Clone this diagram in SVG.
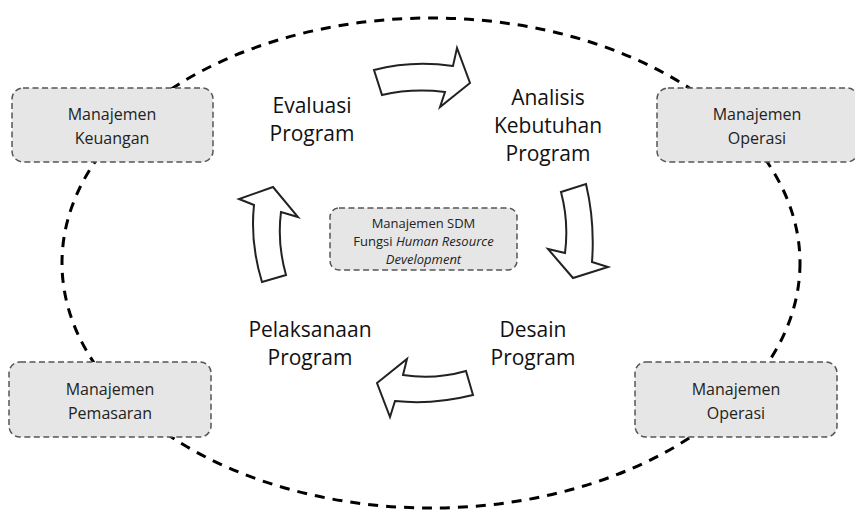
<svg xmlns="http://www.w3.org/2000/svg" width="855" height="513" viewBox="0 0 855 513">
  <style>
    .ring { fill: none; stroke: #000; stroke-width: 3; stroke-dasharray: 10 8; }
    .box { fill: #e6e6e6; stroke: #555; stroke-width: 1.5; stroke-dasharray: 6 3.5; }
    .cycle { fill: #fff; stroke: #222; stroke-width: 2; stroke-linejoin: miter; }
    .boxtext { font-family: "Open Sans", "Noto Sans", sans-serif; font-size: 16px; fill: #222; text-anchor: middle; }
    .step { font-family: "Open Sans", "Noto Sans", sans-serif; font-size: 21px; fill: #111; text-anchor: middle; }
    .core { font-family: "Open Sans", "Noto Sans", sans-serif; font-size: 13px; fill: #222; text-anchor: middle; }
  </style>

  <rect width="855" height="513" fill="#fff"/>

  <g id="connectors">
    <!-- dashed ring linking the management functions -->
    <ellipse class="ring" cx="431" cy="263" rx="369" ry="245"/>
    <!-- curved block arrows of the training cycle -->
    <path class="cycle" d="M374,70 Q412,60 453,66 L457,48 L470,83 L440,107 L445,92 Q412,88 382,95 Z"/>
    <path class="cycle" d="M561,192 L586,184 Q595,222 592,262 L608,267 L573,278 L548,249 L565,253 Q569,222 561,192 Z"/>
    <path class="cycle" d="M466,371 Q434,380 403,375 L407,359 L377,383 L390,417 L395,401 Q433,405 473,395 Z"/>
    <path class="cycle" d="M262,282 Q250,243 254,205 L239,199 L273,187 L298,217 L281,212 Q277,243 286,275 Z"/>
  </g>

  <g id="keuangan">
    <rect class="box" x="12" y="88" width="201" height="74" rx="11"/>
    <text class="boxtext" x="112" y="120">Manajemen</text>
    <text class="boxtext" x="112" y="144">Keuangan</text>
  </g>

  <g id="operasi-atas">
    <rect class="box" x="657" y="88" width="201" height="74" rx="11"/>
    <text class="boxtext" x="757" y="120">Manajemen</text>
    <text class="boxtext" x="757" y="144">Operasi</text>
  </g>

  <g id="pemasaran">
    <rect class="box" x="9" y="362" width="202" height="75" rx="11"/>
    <text class="boxtext" x="110" y="395">Manajemen</text>
    <text class="boxtext" x="110" y="419">Pemasaran</text>
  </g>

  <g id="operasi-bawah">
    <rect class="box" x="635" y="362" width="202" height="75" rx="11"/>
    <text class="boxtext" x="736" y="395">Manajemen</text>
    <text class="boxtext" x="736" y="419">Operasi</text>
  </g>

  <g id="sdm">
    <rect class="box" x="330" y="208" width="187" height="62" rx="9"/>
    <text class="core" x="423.5" y="228">Manajemen SDM</text>
    <text class="core" x="423.5" y="246">Fungsi <tspan font-style="italic">Human Resource</tspan></text>
    <text class="core" x="423.5" y="264" font-style="italic">Development</text>
  </g>

  <g id="evaluasi">
    <text class="step" x="312" y="113">Evaluasi</text>
    <text class="step" x="312" y="141">Program</text>
  </g>

  <g id="analisis">
    <text class="step" x="548" y="105">Analisis</text>
    <text class="step" x="548" y="133">Kebutuhan</text>
    <text class="step" x="548" y="161">Program</text>
  </g>

  <g id="desain">
    <text class="step" x="533" y="337">Desain</text>
    <text class="step" x="533" y="365">Program</text>
  </g>

  <g id="pelaksanaan">
    <text class="step" x="310" y="337">Pelaksanaan</text>
    <text class="step" x="310" y="365">Program</text>
  </g>
</svg>
